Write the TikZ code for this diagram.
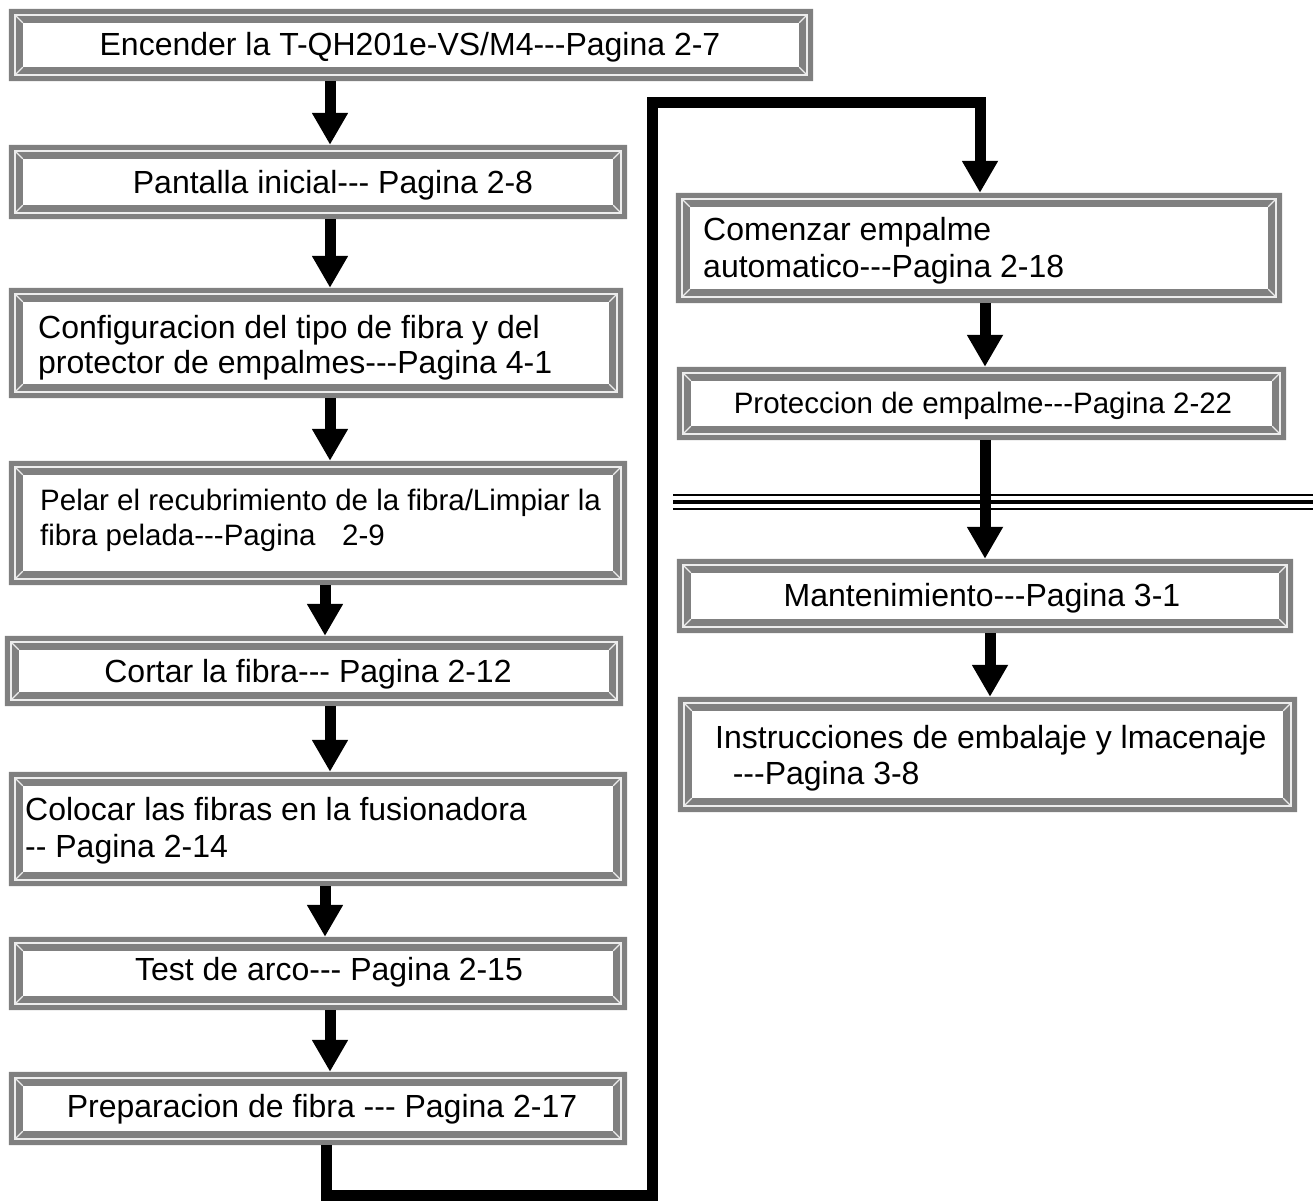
\documentclass[tikz,border=0pt]{standalone}
\usepackage{fontspec}
\setmainfont{Liberation Sans}
\usetikzlibrary{arrows.meta}
\definecolor{framegray}{HTML}{808080}
\definecolor{framelight}{HTML}{EDEDED}
\newcommand\tdash{-\kern0pt-\kern0pt-}
\newcommand\ddash{-\kern0pt-}
\tikzset{
  boxnode/.style={rectangle, inner sep=0pt, draw=none},
  txt/.style={inner sep=0pt, font=\fontsize{32}{36}\selectfont, align=left},
  bigarrow/.style={line width=11pt, -{Triangle[width=34pt,length=32pt]}},
}
\newcommand\bevel[1]{%
  \fill[framegray,even odd rule] (#1.north west) rectangle (#1.south east)
    ([shift={(14,14)}]#1.north west) rectangle ([shift={(-14,-14)}]#1.south east);
  \draw[framelight, line width=1.8pt]
    ([shift={(6.5,6.5)}]#1.north west) rectangle ([shift={(-6.5,-6.5)}]#1.south east);
  \draw[framelight, line width=1.3pt]
    ([shift={(6.5,6.5)}]#1.north west) -- ([shift={(14,14)}]#1.north west)
    ([shift={(-6.5,6.5)}]#1.north east) -- ([shift={(-14,14)}]#1.north east)
    ([shift={(6.5,-6.5)}]#1.south west) -- ([shift={(14,-14)}]#1.south west)
    ([shift={(-6.5,-6.5)}]#1.south east) -- ([shift={(-14,-14)}]#1.south east);
}
\newcommand\mkbox[5]{% name x1 y1 x2 y2
  \node[boxnode, minimum width={#4-#2}, minimum height={#5-#3}] (#1) at ({(#2+#4)/2},{(#3+#5)/2}) {};
  \bevel{#1}}
\begin{document}
\begin{tikzpicture}[x=1pt,y=-1pt]
\useasboundingbox[fill=white] (0,0) rectangle (1313,1200);
% left column boxes
\mkbox{b1}{9}{9}{813}{81}
\mkbox{b2}{9}{145}{627}{219}
\mkbox{b3}{9}{288}{623}{398}
\mkbox{b4}{9}{461}{627}{585}
\mkbox{b5}{5}{636}{623}{706}
\mkbox{b6}{9}{772}{627}{886}
\mkbox{b7}{9}{937}{627}{1010}
\mkbox{b8}{9}{1072}{627}{1145}
% right column boxes
\mkbox{b9}{676}{193}{1282}{303}
\mkbox{b10}{677}{367}{1286}{440}
\mkbox{b11}{677}{559}{1293}{633}
\mkbox{b12}{678}{697}{1297}{812}
% texts
\node[txt] (t1) at (410,47) {Encender la T-QH201e-VS/M4\tdash Pagina 2-7};
\node[txt] (t2) at (333,185) {Pantalla inicial\tdash{} Pagina 2-8};
\node[txt, anchor=west, font=\fontsize{32}{35}\selectfont] (t3) at (38,348) {Configuracion del tipo de fibra y del\\protector de empalmes\tdash Pagina 4-1};
\node[txt, anchor=west, font=\fontsize{29.5}{35}\selectfont] (t4) at (40,520) {Pelar el recubrimiento de la fibra/Limpiar la\\fibra pelada\tdash Pagina\hspace{0.9em}2-9};
\node[txt] (t5) at (308,674) {Cortar la fibra\tdash{} Pagina 2-12};
\node[txt, anchor=west, font=\fontsize{32}{37}\selectfont] (t6) at (25,831) {Colocar las fibras en la fusionadora\\\ddash{} Pagina 2-14};
\node[txt] (t7) at (329,972) {Test de arco\tdash{} Pagina 2-15};
\node[txt] (t8) at (322,1109) {Preparacion de fibra \tdash{} Pagina 2-17};
\node[txt, anchor=west, font=\fontsize{32}{37}\selectfont] (t9) at (703,251) {Comenzar empalme\\automatico\tdash Pagina 2-18};
\node[txt, font=\fontsize{29.5}{32}\selectfont] (t10) at (983,406) {Proteccion de empalme\tdash Pagina 2-22};
\node[txt] (t11) at (982,598) {Mantenimiento\tdash Pagina 3-1};
\node[txt, anchor=west, font=\fontsize{32}{36}\selectfont] (t12) at (715,758) {Instrucciones de embalaje y lmacenaje\\\hspace{0.55em}\tdash Pagina 3-8};
% separator
\draw[line width=2pt] (673,495) -- (1313,495);
\draw[line width=4pt] (673,502) -- (1313,502);
\draw[line width=2pt] (673,509) -- (1313,509);
% arrows
\draw[bigarrow] (330,0 |- b1.south) -- (330,0 |- b2.north);
\draw[bigarrow] (330,0 |- b2.south) -- (330,0 |- b3.north);
\draw[bigarrow] (330,0 |- b3.south) -- (330,0 |- b4.north);
\draw[bigarrow] (325,0 |- b4.south) -- (325,0 |- b5.north);
\draw[bigarrow] (330,0 |- b5.south) -- (330,0 |- b6.north);
\draw[bigarrow] (325,0 |- b6.south) -- (325,0 |- b7.north);
\draw[bigarrow] (330,0 |- b7.south) -- (330,0 |- b8.north);
\draw[bigarrow, line join=miter] (326,0 |- b8.south) -- (326,1195) -- (652,1195) -- (652,102) -- (980,102) -- (980,0 |- b9.north);
\draw[bigarrow] (985,0 |- b9.south) -- (985,0 |- b10.north);
\draw[bigarrow] (985,0 |- b10.south) -- (985,0 |- b11.north);
\draw[bigarrow] (990,0 |- b11.south) -- (990,0 |- b12.north);
\end{tikzpicture}
\end{document}
